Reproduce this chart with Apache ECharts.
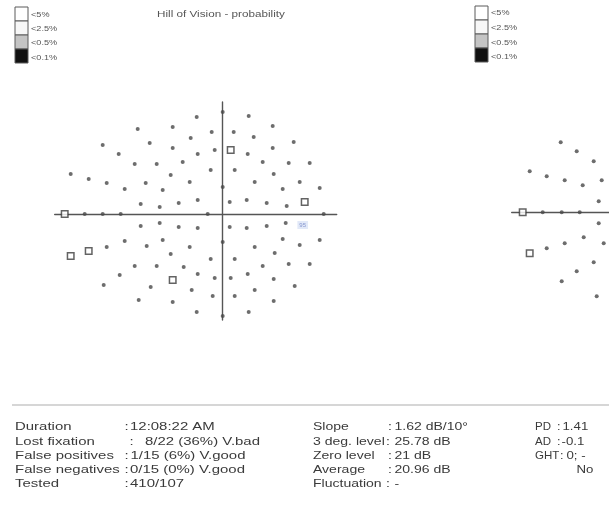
<!DOCTYPE html>
<html><head><meta charset="utf-8">
<script src="https://cdn.jsdelivr.net/npm/echarts@6/dist/echarts.min.js"></script>
<style>html,body{margin:0;padding:0;background:#fff}#c{width:609px;height:516px}</style>
</head><body><div id="c"></div>
<script>
// ---- data (field coordinates, same units on both axes) ----
const leftDots = [[-26,97],[-85,85],[-50,87],[-32,76],[-120,69],[-73,71],[-50,66],[-104,60],[-25,60],[-88,50],[-66,50],[-40,52],[-152,40],[-134,35],[-116,31],[-77,31],[-52,39],[-33,32],[-98,25],[-60,24],[-82,10],[-63,7],[-44,11],[-25,14],
[-138,0],[-120,0],[-102,0],[-15,0],
[0,102],[26,98],[-11,82],[11,82],[50,88],[31,77],[71,72],[-8,64],[25,60],[50,66],[40,52],[66,51],[87,51],[-12,44],[12,44],[51,40],[0,27],[32,32],[77,32],[60,25],[97,26],[7,12],[24,14],[44,11],[64,8],[101,0],
[-82,-12],[-63,-9],[-44,-13],[-25,-14],[-116,-33],[-98,-27],[-76,-32],[-60,-26],[-33,-33],[-52,-40],[-88,-52],[-66,-52],[-39,-53],[-25,-60],[-103,-61],[-119,-71],[-72,-73],[-31,-76],[-84,-86],[-50,-88],[-26,-98],
[7,-13],[24,-14],[44,-12],[63,-9],[0,-28],[32,-33],[60,-25],[77,-31],[97,-26],[52,-39],[-12,-45],[12,-45],[40,-52],[66,-50],[87,-50],[-8,-64],[8,-64],[25,-60],[51,-65],[72,-72],[32,-76],[-10,-82],[12,-82],[51,-87],[0,-102],[26,-98]];
const leftSquares = [[-158,0],[8,64],[82,12],[-152,-42],[-134,-37],[-50,-66]];
const leftNotes = [[80,-11,'95']];
const rightDots = [[-119,70],[-103,61],[-86,51],[-150,41],[-133,36],[-115,32],[-97,27],[-78,32],[-81,11],[-137,0],[-118,0],[-100,0],[-81,-11],[-96,-25],[-115,-31],[-133,-36],[-76,-31],[-86,-50],[-103,-59],[-118,-69],[-83,-84]];
const rightSquares = [[-157,0],[-150,-41]];
const fieldXRange = [-168, 114];
const fieldYRange = [-106, 112];

const chartTitle = 'Hill of Vision - probability';
const legendLabels = ['<5%','<2.5%','<0.5%','<0.1%'];
const reliabilityLabels = ['Duration','Lost fixation','False positives','False negatives','Tested'];
const reliabilityValues = ['12:08:22 AM','8/22 (36%) V.bad','1/15 (6%) V.good','0/15 (0%) V.good','410/107'];
const indexLabels = ['Slope','3 deg. level','Zero level','Average','Fluctuation'];
const indexValues = ['1.62 dB/10°','25.78 dB','21 dB','20.96 dB','-'];
const extraLabels = ['PD','AD','GHT'];
const extraValues = ['1.41','-0.1','0; -'];
const extraNote = 'No';

// ---- layout / style ----
const FONT = '"Liberation Sans", Arial, sans-serif';
const INK = '#3a3a3a';
function txt(x, y, s, size, color, sx) {
  return {type:'text', x:x, y:y, scaleX: sx, silent:true, z:100,
    style:{text:s, x:0, y:0, fontSize:size, fontFamily:FONT, fill:color || INK, verticalAlign:'middle', align:'left'}};
}
const graphics = [];
const shades = ['#ffffff','#f7f7f7','#c4c4c4','#111111'];
function legend(x0, y0, lx, ly) {
  legendLabels.forEach((l, i) => {
    graphics.push({type:'rect', silent:true, z:90, shape:{x:x0, y:y0 + i*14, width:13, height:14},
      style:{fill:shades[i], stroke:'#5a5a5a', lineWidth:1}});
    graphics.push(txt(lx, ly[i], l, 7, '#555', 1.3));
  });
}
legend(15, 7, 31, [15, 29, 43, 58]);
legend(475, 6, 491, [13, 28, 43, 57]);
graphics.push(txt(157, 15, chartTitle, 9, '#555', 1.3));
graphics.push({type:'line', silent:true, z:90, shape:{x1:12, y1:405, x2:609, y2:405}, style:{stroke:'#c8c8c8', lineWidth:1.5}});
const rowY = [427, 441.5, 455.5, 469.5, 483.5];
const colon1X = [124.5, 129.5, 124.5, 124.5, 124.5];
const value1X = [130, 145, 130.5, 130, 130];
reliabilityLabels.forEach((l, i) => {
  graphics.push(txt(15, rowY[i], l, 11.5, INK, 1.3));
  graphics.push(txt(colon1X[i], rowY[i], ':', 11.5, INK, 1.3));
  graphics.push(txt(value1X[i], rowY[i], reliabilityValues[i], 11.5, INK, 1.3));
});
const colon2X = [388, 386, 388, 388, 386];
indexLabels.forEach((l, i) => {
  graphics.push(txt(313, rowY[i], l, 11.5, INK, 1.22));
  graphics.push(txt(colon2X[i], rowY[i], ':', 11.5, INK, 1.22));
  graphics.push(txt(394.5, rowY[i], indexValues[i], 11.5, INK, 1.22));
});
const colon3X = [557, 557, 560];
const value3X = [562.5, 561.5, 566.5];
extraLabels.forEach((l, i) => {
  graphics.push(txt(535, rowY[i], l, 11.5, INK, 1.0));
  graphics.push(txt(colon3X[i], rowY[i], ':', 11.5, INK, 1.1));
  graphics.push(txt(value3X[i], rowY[i], extraValues[i], 11.5, INK, 1.15));
});
graphics.push(txt(576.5, rowY[3], extraNote, 11.5, INK, 1.15));

// ---- chart ----
const axisLine = {show:true, onZero:true, lineStyle:{color:'#555', width:1.4}};
function xAx(i) { return {type:'value', gridIndex:i, min:fieldXRange[0], max:fieldXRange[1], axisLine:axisLine, axisTick:{show:false}, axisLabel:{show:false}, splitLine:{show:false}}; }
function yAx(i) { return {type:'value', gridIndex:i, min:fieldYRange[0], max:fieldYRange[1], axisLine:axisLine, axisTick:{show:false}, axisLabel:{show:false}, splitLine:{show:false}}; }
const gridW = fieldXRange[1] - fieldXRange[0];
const gridH = fieldYRange[1] - fieldYRange[0];
const dotStyle = {color:'#484848'};
const sqStyle = {color:'#ffffff', borderColor:'#3c3c3c', borderWidth:1.5};
const chart = echarts.init(document.getElementById('c'), null, {renderer:'canvas'});
chart.setOption({
  animation:false,
  backgroundColor:'#ffffff',
  grid:[
    {left:222.7 + fieldXRange[0], top:214 - fieldYRange[1], width:gridW, height:gridH, containLabel:false, outerBoundsMode:'none'},
    {left:679.7 + fieldXRange[0], top:212.3 - fieldYRange[1], width:gridW, height:gridH, containLabel:false, outerBoundsMode:'none'}
  ],
  xAxis:[xAx(0), xAx(1)],
  yAxis:[yAx(0), yAx(1)],
  series:[
    {type:'scatter', xAxisIndex:0, yAxisIndex:0, data:leftDots, symbol:'circle', symbolSize:4, itemStyle:dotStyle, z:3},
    {type:'scatter', xAxisIndex:0, yAxisIndex:0, data:leftSquares, symbol:'rect', symbolSize:6.5, itemStyle:sqStyle, z:4},
    {type:'scatter', xAxisIndex:0, yAxisIndex:0, data:leftNotes.map(d => ({value:[d[0], d[1]], name:d[2]})), symbolSize:0, z:4,
      label:{show:true, position:'inside', formatter:p => p.name, fontSize:6, fontFamily:FONT, color:'#7083c4', backgroundColor:'#dbe4f6', padding:[1,2]}},
    {type:'scatter', xAxisIndex:1, yAxisIndex:1, data:rightDots, symbol:'circle', symbolSize:4, itemStyle:dotStyle, z:3},
    {type:'scatter', xAxisIndex:1, yAxisIndex:1, data:rightSquares, symbol:'rect', symbolSize:6.5, itemStyle:sqStyle, z:4}
  ],
  graphic:graphics
});
</script></body></html>
